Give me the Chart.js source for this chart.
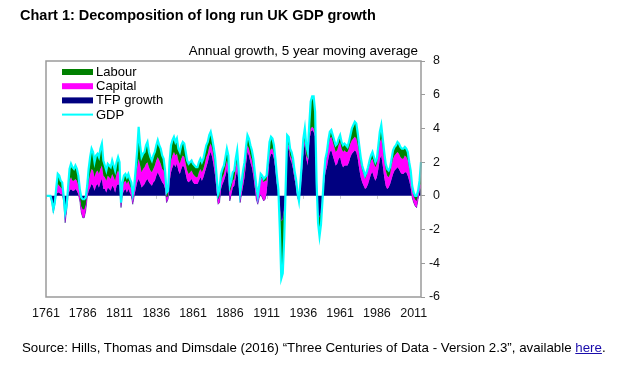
<!DOCTYPE html>
<html>
<head>
<meta charset="utf-8">
<script src="https://cdn.jsdelivr.net/npm/chart.js@4.4.1/dist/chart.umd.min.js"></script>
<style>
body{margin:0;background:#fff;font-family:"Liberation Sans",Arial,sans-serif;}
#wrap{position:relative;width:628px;height:370px;}
#title{position:absolute;left:20px;top:8px;font-weight:bold;font-size:14.5px;line-height:1;white-space:nowrap;color:#000;}
#sub{position:absolute;right:210px;top:44px;font-size:13.4px;line-height:1;white-space:nowrap;color:#000;}
#src{position:absolute;left:22px;top:341px;font-size:13.3px;line-height:1;white-space:nowrap;color:#000;}
#src a{color:#1a0dab;}
canvas{position:absolute;left:0;top:0;}
</style>
</head>
<body>
<div id="wrap">
<canvas id="chart1" width="628" height="370"></canvas>
<div id="title">Chart 1: Decomposition of long run UK GDP growth</div>
<div id="sub">Annual growth, 5 year moving average</div>
<div id="src">Source: Hills, Thomas and Dimsdale (2016) “Three Centuries of Data - Version 2.3”, available <a href="#">here</a>.</div>
</div>
<script>
// years 1761..2016
var years = [];
for (var yr = 1761; yr <= 2016; yr++) years.push(String(yr));

var tickYears = ['1761','1786','1811','1836','1861','1886','1911','1936','1961','1986','2011'];

// top of the TFP band
var tfp = [
  0, 0, 0, 0, -0.4, -1.0, -0.5, 0.1, 0.2, 0.2,
  0.1, 0.1, -0.3, -1.6, -0.9, 0.0, 0.3, 0.4, 0.3, 0.3,
  0.4, 0.3, 0.1, -0.3, -1.0, -1.3, -1.3, -0.9, -0.1, 0.3,
  0.5, 0.7, 0.6, 0.3, 0.6, 0.7, 0.5, 0.8, 1.0, 0.4,
  0.4, 0.2, 0.5, 0.4, 0.3, 0.6, 0.5, 0.2, 0.6, 0.7,
  0.6, -0.7, 0.1, 0.3, 0.4, 0.2, 0.4, 0.2, 0.0, -0.5,
  0.0, 0.4, 0.8, 1.0, 0.8, 0.5, 0.6, 0.7, 0.9, 1.0,
  0.8, 0.7, 0.6, 0.8, 0.9, 1.2, 1.4, 1.2, 1.0, 0.8,
  0.7, 0.4, -0.4, -0.2, 0.8, 1.4, 1.7, 1.9, 1.7, 1.9,
  1.5, 1.3, 1.6, 1.8, 1.7, 1.3, 0.9, 0.8, 0.9, 1.0,
  0.8, 0.7, 0.7, 0.7, 0.9, 1.1, 0.9, 1.1, 1.4, 1.7,
  2.0, 2.4, 2.6, 2.3, 1.8, 1.2, 0.3, -0.5, -0.4, 0.4,
  0.7, 0.9, 1.2, 1.6, 1.2, -0.3, 0.1, 0.5, 0.6, 1.1,
  1.6, 0.7, -0.4, 0.1, 0.6, 1.1, 1.9, 2.6, 2.4, 2.0,
  1.7, 1.2, 0.5, -0.2, -0.5, -0.1, 0.1, -0.1, -0.3, -0.2,
  0.2, 1.2, 2.2, 2.5, 2.5, 2.2, 1.6, 0.7, 0.2, -0.8,
  -1.5, -1.4, -0.8, 0.4, 2.9, 2.8, 2.2, 2.0, 1.6, 1.0,
  0.6, -0.1, -0.3, 0.4, 1.4, 2.6, 3.1, 2.2, 1.8, 3.2,
  3.8, 3.9, 3.8, 3.5, 0.6, -1.0, -1.3, -1.0, -0.2, 0.7,
  1.4, 1.7, 2.2, 2.6, 2.7, 2.4, 2.1, 1.8, 1.9, 2.2,
  2.3, 1.9, 1.7, 1.8, 1.8, 1.8, 2.0, 2.3, 2.5, 2.6,
  2.7, 2.6, 2.2, 1.6, 1.1, 0.8, 0.6, 0.4, 0.5, 0.7,
  1.0, 1.3, 1.4, 1.1, 0.9, 1.1, 1.6, 2.2, 2.4, 1.8,
  1.1, 0.6, 0.4, 0.5, 0.7, 1.0, 1.3, 1.5, 1.6, 1.7,
  1.6, 1.4, 1.3, 1.3, 1.4, 1.4, 1.2, 0.9, 0.5, -0.1,
  -0.4, -0.6, -0.7, -0.2, 0.3, 0.5
];

// top of the capital band (TFP + capital)
var capitalTop = [
  0, 0, 0, 0, -0.3, -0.8, -0.4, 0.3, 0.7, 0.6,
  0.5, 0.4, 0.0, -1.0, -0.6, 0.3, 0.9, 1.1, 0.9, 0.9,
  1.0, 0.9, 0.6, 0.0, -0.6, -0.8, -0.8, -0.5, 0.2, 0.8,
  1.3, 1.6, 1.5, 1.1, 1.4, 1.5, 1.3, 1.6, 1.8, 1.2,
  1.1, 0.9, 1.2, 1.1, 1.0, 1.3, 1.1, 0.9, 1.3, 1.5,
  1.3, -0.4, 0.5, 0.8, 0.9, 0.7, 0.9, 0.6, 0.4, -0.2,
  0.3, 1.0, 1.7, 2.2, 1.8, 1.4, 1.6, 1.7, 1.9, 2.0,
  1.7, 1.5, 1.4, 1.6, 1.8, 2.1, 2.3, 2.1, 1.9, 1.6,
  1.5, 1.0, -0.1, 0.0, 1.4, 2.1, 2.4, 2.6, 2.4, 2.5,
  2.1, 1.9, 2.2, 2.4, 2.3, 1.9, 1.5, 1.3, 1.4, 1.5,
  1.3, 1.2, 1.1, 1.1, 1.4, 1.6, 1.4, 1.6, 1.9, 2.3,
  2.5, 2.9, 3.1, 2.8, 2.3, 1.7, 0.7, -0.2, 0.0, 0.8,
  1.1, 1.3, 1.7, 2.1, 1.7, 0.2, 0.5, 0.9, 1.0, 1.6,
  2.1, 1.1, -0.1, 0.4, 1.0, 1.5, 2.3, 3.0, 2.8, 2.4,
  2.1, 1.6, 0.9, 0.2, -0.1, 0.4, 1.1, 1.0, 0.8, 0.9,
  0.9, 1.7, 2.6, 2.8, 2.8, 2.5, 1.8, 0.9, 0.3, -0.8,
  -1.5, -1.4, -0.8, 0.5, 3.1, 3.0, 2.4, 2.2, 1.8, 1.2,
  0.7, 0.0, -0.2, 0.5, 1.6, 2.8, 3.3, 2.4, 2.2, 3.4,
  4.0, 4.1, 4.0, 3.7, 0.7, -1.0, -1.3, -1.0, -0.2, 0.9,
  1.9, 2.3, 2.9, 3.4, 3.5, 3.2, 2.9, 2.6, 2.7, 3.0,
  3.2, 2.8, 2.6, 2.7, 2.6, 2.6, 2.8, 3.1, 3.3, 3.4,
  3.5, 3.4, 3.0, 2.5, 1.9, 1.5, 1.3, 1.0, 1.2, 1.5,
  1.8, 2.1, 2.2, 1.9, 1.7, 1.9, 2.5, 3.2, 3.4, 2.8,
  2.1, 1.5, 1.2, 1.1, 1.3, 1.8, 2.2, 2.4, 2.5, 2.6,
  2.5, 2.3, 2.2, 2.2, 2.4, 2.3, 2.1, 1.6, 1.1, 0.3,
  0.0, -0.2, -0.3, 0.1, 0.6, 0.7
];

// GDP growth (top of the labour band)
var gdp = [
  0, 0, 0, 0, -0.3, -0.8, -0.4, 0.5, 1.3, 1.2,
  0.9, 0.8, 0.0, -1.0, -0.6, 0.5, 1.6, 1.9, 1.7, 1.6,
  1.8, 1.6, 1.2, 0.4, -0.1, -0.2, -0.2, -0.1, 0.6, 1.6,
  2.3, 2.8, 2.6, 2.0, 2.4, 2.5, 2.3, 2.8, 3.1, 2.1,
  1.8, 1.5, 1.9, 1.8, 1.7, 2.1, 1.8, 1.5, 2.0, 2.3,
  2.0, -0.4, 0.8, 1.2, 1.3, 1.1, 1.3, 1.0, 0.8, 0.1,
  0.6, 1.6, 2.7, 4.1, 3.0, 2.3, 2.5, 2.6, 3.0, 3.2,
  2.6, 2.3, 2.1, 2.4, 2.6, 3.0, 3.3, 3.0, 2.8, 2.4,
  2.2, 1.5, 0.2, 0.3, 2.0, 3.0, 3.3, 3.5, 3.2, 3.4,
  2.8, 2.6, 3.0, 3.2, 3.1, 2.6, 2.1, 1.9, 2.0, 2.1,
  1.9, 1.8, 1.7, 1.7, 2.0, 2.2, 2.0, 2.2, 2.6, 3.0,
  3.2, 3.6, 3.8, 3.4, 2.9, 2.3, 1.2, 0.1, 0.4, 1.3,
  1.6, 1.8, 2.3, 2.8, 2.4, 0.6, 0.9, 1.4, 1.5, 2.2,
  2.7, 1.6, 0.2, 0.8, 1.5, 2.0, 2.9, 3.6, 3.4, 3.0,
  2.7, 2.2, 1.4, 0.6, 0.0, 0.6, 1.3, 1.2, 1.0, 1.1,
  1.2, 2.2, 3.2, 3.5, 3.4, 3.0, 2.2, 1.2, 0.4, -2.0,
  -4.9, -4.6, -2.5, 0.6, 3.6, 3.5, 2.8, 2.6, 2.2, 1.5,
  1.0, 0.2, -0.3, 0.8, 2.0, 3.4, 4.0, 3.0, 2.6, 4.2,
  5.6, 5.9, 5.9, 5.0, 0.8, -1.6, -2.4, -1.7, -0.3, 1.2,
  2.2, 2.6, 3.3, 3.8, 3.9, 3.6, 3.3, 3.0, 3.1, 3.4,
  3.6, 3.2, 3.0, 3.1, 3.0, 2.9, 3.2, 3.6, 4.0, 4.2,
  4.4, 4.3, 3.7, 3.0, 2.3, 1.8, 1.5, 1.2, 1.4, 1.7,
  2.1, 2.4, 2.6, 2.3, 2.0, 2.2, 3.0, 3.8, 4.2, 3.4,
  2.6, 1.9, 1.6, 1.5, 1.7, 2.2, 2.7, 2.9, 3.0, 3.2,
  3.1, 2.9, 2.8, 2.8, 2.9, 2.8, 2.6, 2.0, 1.5, 0.6,
  0.2, 0.0, 0.0, 0.3, 0.9, 2.0
];

var frameBox = {
  id: 'frameBox',
  beforeDatasetsDraw: function(chart) {
    var ctx = chart.ctx;
    var xs = chart.scales.x, ys = chart.scales.y;
    var y0 = ys.getPixelForValue(0);
    ctx.save();
    ctx.strokeStyle = '#c8c8c8';
    ctx.lineWidth = 1;
    tickYears.forEach(function(t) {
      var px = Math.round(xs.getPixelForValue(years.indexOf(t))) + 0.5;
      ctx.beginPath();
      ctx.moveTo(px, y0);
      ctx.lineTo(px, y0 + 3);
      ctx.stroke();
    });
    ctx.restore();
  },
  afterDraw: function(chart) {
    var ctx = chart.ctx;
    var a = chart.chartArea;
    ctx.save();
    ctx.strokeStyle = '#9a9a9a';
    ctx.lineWidth = 1.5;
    ctx.strokeRect(a.left, a.top, a.right - a.left, a.bottom - a.top);
    // legend inside the plot
    var rows = [2, 1, 0, 3];
    ctx.font = '13px "Liberation Sans", Arial, sans-serif';
    ctx.textBaseline = 'middle';
    rows.forEach(function(di, i) {
      var ds = chart.data.datasets[di];
      var cy = 72 + i * 14.2;
      if (di === 3) {
        ctx.strokeStyle = ds.borderColor;
        ctx.lineWidth = 2;
        ctx.beginPath();
        ctx.moveTo(62, cy);
        ctx.lineTo(93, cy);
        ctx.stroke();
      } else {
        ctx.fillStyle = ds.backgroundColor;
        ctx.fillRect(62, cy - 3, 31, 6);
      }
      ctx.fillStyle = '#000';
      ctx.fillText(ds.label, 96, cy + 0.5);
    });
    ctx.restore();
  }
};

var ctx1 = document.getElementById('chart1').getContext('2d');
var chart1 = new Chart(ctx1, {
  type: 'line',
  data: {
    labels: years,
    datasets: [{
      label: 'TFP growth',
      data: tfp,
      backgroundColor: '#000080',
      borderColor: '#000080',
      borderWidth: 0.5,
      fill: 'origin',
      order: 3
    }, {
      label: 'Capital',
      data: capitalTop,
      backgroundColor: '#ff00ff',
      borderColor: '#ff00ff',
      borderWidth: 0.5,
      fill: 0,
      order: 2
    }, {
      label: 'Labour',
      data: gdp,
      backgroundColor: '#008000',
      borderWidth: 0,
      fill: 1,
      order: 1
    }, {
      label: 'GDP',
      data: gdp,
      borderColor: '#00ffff',
      borderWidth: 2.2,
      fill: false,
      order: 0
    }]
  },
  options: {
    responsive: false,
    animation: false,
    devicePixelRatio: 1,
    elements: { point: { radius: 0 }, line: { tension: 0 } },
    layout: { padding: { left: 46, top: 61, right: 188, bottom: 43 } },
    plugins: { legend: { display: false }, tooltip: { enabled: false } },
    scales: {
      x: {
        type: 'category',
        grid: { display: false, drawTicks: false },
        border: { display: false },
        afterFit: function(s) { s.height = 30; },
        ticks: {
          autoSkip: false,
          maxRotation: 0,
          padding: 9,
          color: '#111',
          font: { family: '"Liberation Sans", Arial, sans-serif', size: 12.5 },
          callback: function(v) {
            var lab = this.getLabelForValue(v);
            return tickYears.indexOf(lab) >= 0 ? lab : '';
          }
        }
      },
      y: {
        position: 'right',
        min: -6,
        max: 8,
        afterFit: function(s) { s.width = 19; },
        grid: { drawOnChartArea: false, drawTicks: true, tickLength: 4, color: '#9a9a9a' },
        border: { display: false },
        ticks: {
          stepSize: 2,
          padding: 3,
          crossAlign: 'far',
          color: '#111',
          font: { family: '"Liberation Sans", Arial, sans-serif', size: 12.5 }
        }
      }
    }
  },
  plugins: [frameBox]
});
</script>
</body>
</html>
